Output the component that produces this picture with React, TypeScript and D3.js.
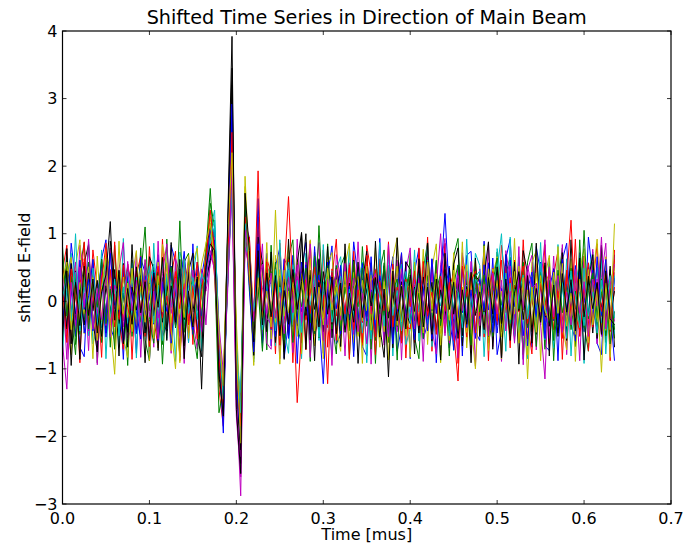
import React from "react";
import * as d3 from "d3";

const T_STEP = 0.005;
const xTicks = [0.0, 0.1, 0.2, 0.3, 0.4, 0.5, 0.6, 0.7];
const yTicks = [-3, -2, -1, 0, 1, 2, 3, 4];
const colors = ["#0000ff", "#008000", "#ff0000", "#00bfbf", "#bf00bf", "#bfbf00", "#000000"];

const s0 = [
  -0.35, 0.42, 0.18, -0.52, 0.61, -0.12, 0.33, -0.44, 0.08, 0.55, -0.27, 0.71, -0.06, 0.24, -0.61, 0.37,
  0.12, -0.48, 0.66, -0.21, 0.05, 0.43, -0.58, 0.29, -0.15, 0.52, -0.36, 0.18, 0.74, -0.09, -0.42, 0.31,
  -0.22, 0.46, 1.05, 0.88, -0.74, -1.95, 0.62, 2.92, -1.2, -2.05, 1.55, 0.38, -0.45, 1.52, -0.62, 0.25,
  -0.42, 0.35, -0.18, 0.62, -0.55, 0.14, -0.33, 0.58, 0.07, -0.49, 0.81, -0.25, -1.22, 0.19, 0.42, -0.11,
  0.53, -0.37, 0.22, -0.82, 0.47, 0.09, -0.29, 0.66, -0.51, 0.28, -0.07, 0.44, -0.63, 0.15, 0.72, -0.34,
  0.06, -0.57, 0.39, 0.21, -0.44, 0.63, -0.18, 0.35, 1.3, 0.11, -0.72, -0.26, 0.48, -0.39, 0.17, -0.55,
  0.32, -0.14, 0.57, -0.46, 0.24, -0.31, 0.69, -0.08, -0.52, 0.41, 0.13, -0.66, 0.36, -0.23, 0.58, -0.41,
  0.19, 0.47, -0.35, 0.62, -0.16, 0.28, -0.59, 0.44, -0.02, 0.51, -0.37, 0.66, -0.21, 0.34, -0.12, -0.88,
];
const s1 = [
  0.81, -0.22, 0.37, -0.64, 0.12, 0.55, -0.41, 0.27, -0.09, 0.62, -0.33, 0.18, -0.71, 0.44, -0.15, 0.29,
  -0.52, 0.08, 0.36, 1.1, -0.27, -0.62, 0.41, -0.93, 0.23, 0.51, -0.38, 1.19, -0.46, 0.14, 0.32, -0.19,
  -0.31, 0.72, 1.67, 0.55, -1.65, -1.3, 0.25, 1.85, -0.95, -1.75, 1.45, 0.62, -0.38, 0.21, -0.74, 0.46,
  -0.25, 0.58, -0.47, 0.13, 0.36, -0.61, 0.24, -0.08, 0.49, -0.32, 0.67, -0.54, 0.11, 0.38, -0.26, 0.53,
  -0.44, 0.21, -0.12, 0.59, -0.37, 0.06, 0.44, -0.71, 0.28, -0.19, 0.57, -0.42, 0.15, 0.33, -0.58, 0.22,
  0.47, -0.29, 0.12, -0.55, 0.38, -0.14, 0.61, -0.36, 0.09, -0.47, 0.26, 0.54, -0.31, 0.18, -0.65, 0.41,
  -0.16, 0.39, -0.52, 0.27, 0.64, -0.23, 0.08, -0.48, 0.35, -0.11, 0.56, -0.39, 0.21, -0.67, 0.43, -0.05,
  0.31, -0.58, 0.46, -0.17, 0.23, -0.42, 0.15, -0.33, 1.05, -0.26, 0.38, -0.49, 0.12, 0.27, -0.63, -0.15,
];
const s2 = [
  0.22, -0.61, 0.48, 0.05, -0.34, 0.63, -0.18, 0.39, -0.52, 0.27, 0.86, -0.45, 0.11, -0.27, 0.54, -0.09,
  -0.38, 0.45, -0.13, 0.31, -0.67, 0.19, 0.52, -0.24, 0.08, -0.49, 0.36, -0.11, 0.62, -0.35, 0.23, -0.56,
  0.15, 0.62, 1.35, 0.72, -0.85, -1.55, 0.48, 2.5, -0.85, -1.85, 1.25, 0.35, -0.25, 1.93, -0.32, 0.58,
  -0.41, 0.27, -0.65, 0.39, 1.55, 0.11, -1.5, -0.46, 0.32, -0.18, 0.51, -0.37, 0.09, -1.22, 0.44, -0.58,
  0.36, -0.19, 0.54, -0.42, 0.17, -0.31, 0.68, -0.06, -0.53, 0.29, -0.14, 0.47, -0.38, 0.21, -0.62, 0.33,
  -0.08, 0.45, -0.36, 0.59, -0.22, 0.14, -0.49, 0.37, -0.15, 0.28, -0.45, -1.18, 0.52, 0.07, 0.41, -0.47,
  0.26, -0.53, 0.12, 0.44, -0.29, 0.61, -0.17, 0.35, -0.46, 0.19, 0.52, -0.33, 0.08, -0.41, 0.27, -0.12,
  0.48, -0.26, 0.15, -0.55, 0.34, 1.2, -0.21, -0.44, 0.09, 0.57, -0.38, 0.22, -0.15, 0.41, -0.29, 0.62,
];
const s3 = [
  0.05, 0.38, -0.29, 1.0, -0.44, 0.21, -0.13, 0.49, -0.36, 0.17, 0.58, -0.24, 0.33, -0.51, 0.12, 0.44,
  -0.21, 0.36, -0.47, 0.15, 0.52, -0.32, 0.24, -0.58, 0.41, -0.09, 0.29, -0.43, 0.62, -0.18, 0.35, -0.27,
  0.41, 0.25, 0.95, 1.2, -0.55, -1.45, 0.35, 1.65, -0.65, -1.65, 1.15, 0.55, -0.15, 0.45, -0.42, 0.32,
  -0.19, 0.47, -0.35, 0.12, 0.58, -0.27, 0.31, -0.46, 0.15, -0.06, 0.39, -0.53, 0.21, 0.44, -0.31, 0.08,
  0.37, -0.42, 0.18, -0.25, 0.49, -0.13, 0.27, -0.56, 0.34, 0.08, -0.37, 0.53, -0.21, 0.16, -0.44, 0.29,
  -0.33, 0.15, 0.42, -0.28, 0.61, -0.45, 0.19, -0.07, 0.36, -0.51, 0.24, 0.13, -0.39, 0.45, -0.18, 0.33,
  0.22, -0.48, 0.31, -0.14, 0.45, 1.0, -0.36, 0.27, -0.52, 0.11, 0.39, -0.26, 0.18, -0.43, 0.56, -0.09,
  -0.31, 0.42, -0.17, 0.28, -0.55, 0.36, 0.07, -0.39, 0.49, -0.22, 0.14, -0.47, 0.31, -0.12, 0.38, -0.25,
];
const s4 = [
  -0.62, -1.3, 0.28, -0.36, 0.51, -0.09, 0.92, -0.41, 0.19, -0.27, 0.45, -0.53, 0.24, 0.07, -0.38, 0.59,
  -0.14, 0.31, -0.49, 0.62, -0.23, 0.15, -0.56, 0.41, 0.85, -0.18, 0.34, -0.42, 0.09, 0.53, -0.31, 0.22,
  -0.45, 0.35, 0.75, 0.45, -0.6, -1.15, 0.15, 1.95, -1.4, -2.88, 1.05, 0.7, -0.3, 0.25, 0.55, -0.18,
  0.42, -0.25, 0.13, -0.48, 0.36, -0.17, 0.54, -0.32, 0.21, 0.85, -0.41, 0.19, -0.58, 0.33, -0.07, 0.47,
  -0.28, 0.56, -0.19, 0.34, -0.45, 0.12, -0.63, 0.29, 0.41, -0.36, 0.18, -0.52, 0.26, -0.11, 0.48, -0.34,
  0.17, -0.41, 0.35, -0.22, 0.59, -0.47, 0.23, 1.0, -0.33, 0.16, -0.58, 0.38, -0.14, 0.44, -0.27, 0.11,
  -0.36, 0.25, -0.51, 0.42, -0.19, 0.31, -0.44, 0.15, -0.62, 0.37, -0.08, 0.53, 0.19, 0.26, -0.35, -1.15,
  0.51, -0.23, 0.38, -0.46, 0.14, -0.35, 0.47, -0.18, 0.29, -0.52, 0.33, -0.07, 0.95, -0.41, 0.24, 0.55,
];
const s5 = [
  0.31, 0.58, -0.42, 0.19, -0.27, 0.46, -0.11, 0.35, -0.58, 0.22, 0.63, -0.34, -1.08, 0.41, -0.19, 0.27,
  -0.45, 0.12, 0.49, -0.31, 0.26, -0.55, 0.38, -0.16, 0.57, -0.42, -1.0, 0.33, -0.24, 0.68, -0.37, 0.14,
  0.55, 0.85, 1.15, 0.62, -0.45, -1.25, 0.95, 2.2, -0.75, -2.1, 1.85, 0.45, -0.55, 0.35, -0.25, 0.15,
  -0.38, 1.35, -0.29, 0.46, -0.17, 0.28, -0.52, 0.39, -0.08, 0.63, -0.44, 0.21, -0.35, 0.49, -0.13, 0.32,
  -0.21, 0.44, -0.56, 0.18, 0.37, -0.29, 0.52, -0.43, 0.11, -0.68, 0.29, -0.15, 0.47, -0.36, 0.24, -0.51,
  0.36, -0.18, 0.27, -0.47, 0.58, -0.12, 0.41, -0.65, 0.19, -0.28, 0.46, -0.39, 0.08, 0.54, -0.31, -1.0,
  0.23, -0.39, 0.48, -0.11, 0.31, -0.53, 0.16, -0.27, 0.44, -0.62, 0.35, -1.15, 0.21, -0.46, 0.38, -0.14,
  -0.29, 0.43, -0.18, 0.56, -0.37, 0.12, -0.49, 0.33, -0.21, 0.47, -0.35, 0.18, -1.05, 0.27, -0.42, 1.15,
];
const s6 = [
  -0.55, 0.45, -0.95, 0.28, -0.36, 0.52, -0.21, 0.33, -0.47, 0.14, 0.39, 1.18, -0.28, 0.46, -0.63, 0.19,
  -0.34, 0.51, -0.17, 0.29, -0.58, 0.42, -0.09, 0.65, -0.44, 0.23, -0.31, 0.48, -0.66, 0.15, -0.38, 0.36,
  -1.3, 0.5, 0.85, 0.75, -1.05, -1.7, 1.15, 3.92, -1.6, -2.55, 1.6, 0.75, -0.6, 0.65, -0.35, 0.42,
  -0.23, 0.38, -0.51, 0.16, -0.34, 0.47, -0.12, 0.29, 1.0, -0.57, 0.21, -0.38, 0.44, -0.19, 0.36, -0.48,
  0.27, -0.46, 0.12, -0.31, 0.58, -0.24, 0.41, -0.07, 0.35, -0.53, 0.18, -1.12, 0.45, -0.29, 0.22, -0.41,
  0.39, -0.15, 0.52, -0.38, 0.21, -0.49, 0.33, -0.26, 0.47, -0.12, 0.28, -0.55, 0.17, -0.34, 0.43, -0.21,
  0.14, -0.42, 0.35, -0.19, 0.51, -0.33, 0.26, -0.58, 0.12, 0.44, -0.27, 0.38, -0.45, 0.19, -0.31, 0.53,
  -0.37, 0.24, -0.52, 0.41, -0.16, 0.32, -0.44, 0.56, -0.23, 0.37, -0.11, 0.28, -0.49, 0.45, -0.26, -0.35,
];
const s7 = [
  0.12, -0.38, 0.55, -0.19, 0.31, -0.47, 0.08, 0.62, -0.29, 0.41, -0.53, 0.16, 0.35, -0.22, 0.48, -0.41,
  0.27, -0.15, -0.56, 0.38, 0.09, -0.34, 0.51, -0.21, 0.33, -0.62, 0.19, 0.45, -0.28, 0.07, -0.49, 0.58,
  0.18, 0.28, 0.65, 1.05, -0.4, -1.6, 0.45, 2.75, -1.1, -1.55, 1.2, 0.15, -0.75, 0.85, -0.15, 0.38,
  0.25, -0.52, 0.36, -0.11, 0.47, -0.38, 0.22, -0.16, 0.54, -0.43, 0.13, 0.39, -0.27, 0.58, -0.36, 0.19,
  -0.48, 0.33, -0.15, 0.42, -0.31, 0.56, -0.22, 0.17, -0.45, 0.38, 0.06, -0.52, 0.29, -0.18, 0.41, -0.27,
  0.21, -0.34, 0.48, -0.09, 0.27, -0.56, 0.39, -0.21, 0.14, 0.52, -0.43, 0.26, -0.17, 0.45, -0.38, 0.31,
  -0.26, 0.54, -0.13, 0.32, -0.47, 0.19, -0.35, 0.61, -0.08, 0.29, -0.51, 0.16, 0.43, -0.24, 0.37, -0.55,
  0.18, -0.29, 0.41, -0.45, 0.26, -0.12, 0.53, -0.36, 0.21, -0.18, 0.46, -0.31, 0.09, 0.62, -0.44, 0.35,
];
const s8 = [
  -0.28, 0.52, -0.16, 0.37, -0.49, 0.24, 0.58, -0.33, 0.11, -0.61, 0.42, -0.18, 0.29, -0.37, 0.15, 0.51,
  -0.42, 0.23, -0.31, 0.56, -0.14, 0.38, -0.52, 0.19, -0.06, 0.47, -0.35, 0.28, -0.19, 0.61, -0.44, -0.85,
  0.25, 0.45, 0.95, 0.8, -0.7, -1.4, 0.6, 2.35, -0.6, -1.9, 1.35, 0.25, -0.45, 0.55, -0.38, 0.22,
  0.44, -0.21, 0.31, -0.57, 0.18, 0.42, -0.33, 0.26, -0.26, 0.39, -0.48, 1.12, -0.09, 0.53, -0.41, 0.27,
  -0.17, 0.36, -0.44, 0.22, -0.08, 0.49, -0.37, 0.14, -0.58, 0.31, -0.21, 0.46, -0.32, 0.11, -0.49, 0.38,
  0.12, -0.46, 0.29, -0.18, 0.53, -0.34, 0.16, 0.41, -0.27, 0.34, -0.59, 0.22, -0.12, 0.37, -0.45, 0.18,
  0.41, -0.19, 0.26, -0.52, 0.37, -0.06, 0.45, -0.31, 0.21, -0.43, 0.58, -0.24, 0.12, -0.37, 0.29, -0.16,
  -0.33, 0.18, -0.47, 0.35, -0.21, 0.49, -0.12, 0.27, -0.39, 0.16, 0.42, -0.28, 0.33, -0.51, 0.19, -0.42,
];
const s9 = [
  0.63, -0.19, 0.34, -0.45, 0.21, 0.88, -0.37, 0.12, -0.54, 0.39, -0.23, 0.47, -0.38, 0.17, -0.29, 0.55,
  0.18, -0.41, 0.33, -0.24, 0.49, -0.16, 0.37, -0.55, 0.22, -0.09, 0.44, -0.31, 0.26, -0.47, 0.12, 0.58,
  -0.28, 0.55, 1.05, 0.35, -0.95, -1.35, 0.75, 2.15, -0.7, -1.6, 0.85, 0.95, -0.35, 0.35, -0.52, 0.48,
  -0.16, 0.42, -0.33, 0.25, -0.47, 0.36, -0.12, 0.53, -0.28, 0.19, -0.41, 0.31, 0.07, -0.39, 0.48, -0.22,
  0.35, -0.27, 0.49, -0.15, 0.28, -0.61, 0.37, -0.19, 0.46, -0.34, 0.13, -0.42, 0.55, -0.26, 0.18, -0.37,
  -0.41, 0.24, -0.12, 0.38, -0.29, 0.52, -0.18, 0.33, -0.47, 0.21, 0.41, -0.25, 0.16, -0.53, 0.29, 0.45,
  -0.22, 0.37, -0.45, 0.15, 0.33, -0.28, 0.52, -0.39, 0.24, -0.16, 0.41, -0.56, 0.27, -0.08, 0.39, -0.31,
  0.27, -0.42, 0.19, -0.31, 0.46, -0.17, 0.38, -0.52, 0.25, -0.36, 0.14, 0.48, -0.23, 0.31, -0.45, 0.21,
];
const s10 = [
  -0.46, 0.16, -0.28, 0.43, -0.12, 0.37, -0.51, 0.25, 0.06, -0.39, 0.51, -0.17, 0.32, -0.48, 0.21, -0.33,
  0.39, -0.27, 0.14, -0.46, 0.31, 0.55, -0.18, 0.27, -0.41, 0.16, -0.29, 0.48, -0.37, 0.23, 0.41, -0.12,
  0.05, 0.55, 0.85, 1.1, -0.5, -1.2, 0.3, 1.75, -0.85, -1.35, 0.95, 0.4, -0.2, 0.55, -0.29, 0.16,
  0.33, -0.44, 0.21, -0.18, 0.46, -0.35, 0.13, -0.52, 0.38, -0.27, 0.16, -0.41, 0.29, -0.11, 0.45, -0.36,
  0.19, -0.33, 0.42, -0.21, 0.14, -0.47, 0.36, -0.09, 0.28, -0.43, 0.51, -0.18, 0.23, -0.39, 0.12, 0.44,
  -0.25, 0.38, -0.16, 0.51, -0.34, 0.22, -0.48, 0.15, -0.27, 0.39, -0.12, 0.31, -0.53, 0.24, -0.08, 0.36,
  0.45, -0.21, 0.11, -0.38, 0.27, -0.14, 0.42, -0.33, 0.18, -0.47, 0.29, -0.22, 0.36, -0.15, 0.48, -0.41,
  -0.18, 0.33, -0.39, 0.22, -0.11, 0.45, -0.29, 0.14, -0.36, 0.28, -0.19, 0.51, -0.32, 0.15, -0.24, 0.38,
];
const s11 = [
  0.36, -0.52, 0.17, 0.58, -0.27, 0.12, -0.44, 0.31, -0.18, 0.49, -0.36, 0.22, -0.11, 0.41, -0.55, 0.23,
  -0.31, 0.44, -0.21, 0.13, -0.47, 0.36, -0.25, 0.19, 0.53, -0.38, 0.27, -0.52, 0.18, -0.29, 0.46, -0.14,
  0.35, 0.15, 0.55, 0.95, -0.35, -1.05, 0.25, 1.55, -1.55, -2.3, 0.8, 0.5, -0.1, 0.45, 0.2, -0.25,
  -0.34, 0.51, -0.19, 0.28, -0.42, 0.16, 0.37, -0.26, 0.44, -0.13, 0.32, -0.49, 0.21, -0.35, 0.18, 0.42,
  0.28, -0.14, 0.35, -0.49, 0.22, -0.31, 0.47, -0.18, 0.11, -0.36, 0.54, -0.23, 0.39, -0.45, 0.16, -0.28,
  -0.19, 0.32, -0.43, 0.17, -0.26, 0.44, -0.12, 0.29, -0.51, 0.35, -0.21, 0.47, -0.33, 0.12, -0.42, 0.26,
  0.31, -0.45, 0.23, -0.17, 0.39, -0.28, 0.14, 0.52, -0.36, 0.21, -0.13, 0.44, -0.39, 0.27, -0.21, 0.36,
  -0.24, 0.38, -0.12, 0.45, -0.33, 0.19, -0.47, 0.28, -0.16, 0.41, -0.27, 0.33, -0.52, 0.17, 0.36, -0.3,
];
const s12 = [
  -0.17, 0.33, 0.65, -0.42, 0.28, -0.19, 0.51, -0.35, 0.14, -0.27, 0.45, -0.48, 0.19, -0.13, 0.36, -0.24,
  0.49, -0.36, 0.22, -0.14, 0.41, -0.27, 0.58, -0.43, 0.16, -0.32, 0.35, -0.18, 0.44, -0.55, 0.21, 0.37,
  -0.15, 0.85, 1.25, 0.5, -0.8, -1.1, 0.85, 1.85, -0.3, -1.75, 1.0, 0.85, -0.25, 0.3, -0.48, 0.25,
  0.38, -0.31, 0.47, -0.22, 0.15, -0.48, 0.26, 0.41, -0.17, 0.33, -0.39, 0.12, -0.25, 0.46, -0.33, 0.21,
  -0.36, 0.25, -0.18, 0.43, -0.52, 0.31, -0.14, 0.39, -0.27, 0.18, -0.45, 0.34, -0.09, 0.52, -0.31, 0.15,
  0.26, -0.41, 0.14, -0.29, 0.45, -0.17, 0.36, -0.48, 0.23, -0.12, 0.39, -0.34, 0.21, -0.46, 0.31, -0.18,
  -0.12, 0.29, -0.36, 0.48, -0.23, 0.15, -0.41, 0.33, -0.19, 0.52, -0.28, 0.17, -0.35, 0.42, -0.16, 0.27,
  0.41, -0.22, 0.31, -0.38, 0.15, -0.27, 0.44, -0.13, 0.36, -0.49, 0.22, -0.31, 0.18, -0.43, 0.29, 0.48,
];
const s13 = [
  0.24, -0.41, 0.56, -0.28, 0.17, -0.35, 0.42, -0.14, 0.31, -0.52, 0.23, -0.19, 0.47, -0.33, 0.12, -0.46,
  0.21, -0.13, 0.38, -0.47, 0.26, -0.22, 0.44, -0.31, 0.15, 0.52, -0.39, 0.18, -0.27, 0.41, -0.16, 0.33,
  -0.42, 0.3, 0.6, 0.9, -0.65, -1.5, 0.95, 3.2, -1.3, -2.2, 1.4, 0.55, -0.5, 0.75, -0.28, 0.35,
  -0.29, 0.46, -0.15, 0.33, -0.51, 0.24, -0.37, 1.0, -0.21, 0.39, -0.12, 0.28, -0.45, 0.17, -0.34, 0.49,
  0.16, -0.38, 0.27, -0.14, 0.43, -0.29, 0.19, -0.46, 0.35, -0.11, 0.52, -0.25, 0.14, -0.37, 0.29, -0.18,
  -0.33, 0.21, -0.47, 0.36, -0.15, 0.28, -0.42, 0.17, -0.26, 0.49, -0.19, 0.34, -0.51, 0.22, -0.13, 0.38,
  0.29, -0.16, 0.41, -0.32, 0.18, -0.45, 0.33, -0.21, 0.47, -0.14, 0.26, -0.38, 0.12, -0.49, 0.35, -0.23,
  -0.21, 0.37, -0.13, 0.28, -0.44, 0.19, -0.31, 0.42, -0.18, 0.33, -0.47, 0.26, -0.09, 0.38, -0.25, 0.15,
];
const s14 = [
  0.72, -0.45, 0.86, 0.31, -0.68, -0.82, 0.55, 0.12, -0.74, 0.63, 0.91, -0.38, -0.57, 0.24, -0.86, 0.48,
  0.29, -0.77, 0.64, 0.42, -0.88, 0.18, 0.69, -0.52, -0.35, 0.83, 0.58, -0.79, 0.27, -0.61, 0.85, -0.47,
  0.36, 0.75, 1.25, 0.95, -0.9, -1.75, 0.85, 2.6, -1.45, -1.95, 1.35, 0.65, -0.85, 1.05, -0.58, 0.71,
  -0.66, 0.52, 0.79, -0.84, -0.31, 0.68, -0.92, 0.45, 0.87, -0.58, -0.24, 0.61, -0.77, 0.39, 0.82, -0.63,
  -0.49, 0.71, -0.28, 0.88, 0.34, -0.67, -0.81, 0.56, -0.43, 0.93, -0.61, 0.27, 0.66, -0.74, -0.38, 0.59,
  -0.85, 0.44, 0.78, -0.56, -0.33, 0.62, -0.91, 0.37, 0.85, -0.69, -0.26, 0.53, -0.81, 0.68, 0.74, -0.45,
  -0.58, 0.89, -0.36, 0.64, -0.79, -0.41, 0.63, 0.92, -0.27, 0.57, -0.86, 0.35, -0.68, 0.81, 0.42, -0.66,
  -0.73, 0.49, -0.88, 0.61, 0.86, -0.34, -0.57, 0.72, -0.45, 0.95, 0.38, -0.62, -0.79, 0.55, -0.41, 0.69,
];
const s15 = [
  -0.58, 0.66, -0.21, -0.79, 0.48, 0.87, -0.35, 0.62, -0.91, 0.27, 0.54, -0.68, 0.83, -0.42, 0.19, -0.95,
  0.61, -0.33, 0.79, -0.57, -0.88, 0.46, 0.25, -0.64, 0.92, -0.41, 0.16, -0.83, 0.58, 0.71, -0.52, 0.37,
  -0.67, 0.55, 1.45, 1.1, -1.2, -1.6, 0.55, 2.05, -1.25, -1.5, 1.6, 0.3, -0.65, 0.8, 0.48, -0.72,
  0.83, -0.46, 0.29, -0.75, 0.64, 0.91, -0.38, -0.62, 0.47, -0.89, 0.73, 0.18, -0.56, 0.85, -0.31, -0.78,
  0.52, 0.69, -0.84, 0.37, -0.49, 0.81, -0.23, 0.57, -0.92, 0.44, 0.76, -0.61, 0.33, -0.87, 0.62, -0.29,
  0.71, -0.53, -0.85, 0.46, 0.88, -0.37, 0.59, -0.72, 0.24, -0.81, 0.67, 0.93, -0.45, 0.28, -0.66, 0.54,
  -0.39, 0.84, -0.62, -0.26, 0.73, -0.87, 0.41, 0.65, -0.54, 0.22, -0.79, 0.58, 0.86, -0.43, 0.35, -0.71,
  0.64, -0.88, 0.27, 0.79, -0.52, 0.43, -0.67, 0.91, -0.36, -0.74, 0.58, -0.25, 0.83, -0.61, 0.47, -0.55,
];
const s16 = [
  0.45, 0.83, -0.62, 0.27, -0.91, 0.58, -0.34, 0.76, 0.19, -0.83, 0.64, -0.47, 0.88, -0.29, -0.71, 0.55,
  -0.86, 0.39, 0.67, -0.52, 0.81, -0.25, -0.69, 0.92, -0.41, 0.36, 0.74, -0.88, 0.23, 0.59, -0.64, 0.47,
  -0.55, 0.38, 0.95, 0.85, -1.3, -1.85, 0.7, 2.25, -0.95, -2.25, 1.1, 0.85, -0.7, 1.25, -0.45, 0.63,
  0.41, -0.78, 0.86, -0.33, 0.62, -0.91, 0.48, 0.27, -0.72, 0.89, -0.51, -0.24, 0.76, -0.68, 0.35, 0.92,
  -0.43, 0.57, -0.86, 0.74, -0.22, -0.65, 0.83, 0.41, -0.79, 0.63, -0.37, 0.88, -0.55, 0.18, 0.71, -0.84,
  0.36, -0.61, 0.79, -0.28, 0.95, -0.74, 0.47, -0.39, 0.86, -0.57, 0.22, -0.92, 0.68, 0.31, -0.76, 0.53,
  -0.24, 0.72, -0.88, 0.49, -0.35, 0.83, 0.27, -0.69, 0.61, -0.47, 0.91, -0.32, -0.78, 0.56, -0.19, 0.84,
  -0.63, 0.38, 0.75, -0.86, 0.44, -0.29, 0.92, -0.51, 0.67, -0.73, 0.21, 0.85, -0.46, 0.61, -0.88, 0.76,
];
const s17 = [
  -0.81, 0.34, 0.71, -0.47, 0.59, -0.26, 0.88, -0.63, -0.39, 0.76, -0.85, 0.42, 0.21, -0.68, 0.93, -0.31,
  0.57, -0.84, 0.43, 0.19, -0.72, 0.86, -0.37, 0.64, -0.55, 0.28, -0.89, 0.73, 0.46, -0.61, 0.35, 0.82,
  -0.74, 0.61, 1.05, 1.35, -0.75, -1.5, 0.25, 1.95, -1.0, -1.45, 1.05, 0.45, -0.9, 0.65, -0.69, 0.52,
  0.38, -0.66, 0.91, -0.42, -0.77, 0.54, 0.29, -0.85, 0.71, -0.33, 0.63, -0.58, 0.84, -0.21, -0.79, 0.47,
  0.66, -0.35, 0.82, -0.73, 0.26, 0.58, -0.91, 0.44, -0.52, 0.87, -0.28, 0.69, -0.81, 0.37, 0.55, -0.64,
  -0.42, 0.76, -0.59, 0.31, 0.85, -0.67, 0.18, -0.88, 0.62, 0.47, -0.73, 0.29, -0.56, 0.92, -0.37, 0.71,
  0.53, -0.82, 0.36, -0.61, 0.78, 0.24, -0.74, 0.95, -0.43, 0.66, -0.27, -0.85, 0.51, -0.38, 0.87, -0.57,
  0.32, -0.69, 0.84, -0.45, 0.63, -0.81, 0.27, 0.56, -0.92, 0.41, 0.73, -0.36, 0.62, -0.78, 0.25, -0.48,
];
const s18 = [
  0.27, -0.86, 0.62, -0.41, 0.83, 0.38, -0.73, 0.55, -0.94, 0.36, -0.22, 0.79, -0.66, 0.48, 0.87, -0.54,
  -0.39, 0.72, -0.83, 0.56, 0.31, -0.68, 0.89, -0.45, 0.24, -0.77, 0.63, 0.41, -0.92, 0.67, -0.28, -0.71,
  0.48, -0.35, 0.65, 0.55, -0.85, -1.25, 0.45, 1.75, -1.7, -2.6, 1.15, 0.95, -0.55, 0.15, 0.85, -0.62,
  -0.71, 0.38, -0.85, 0.63, 0.49, -0.76, 0.92, -0.37, 0.58, -0.83, 0.26, 0.87, -0.61, 0.43, -0.95, 0.69,
  0.34, -0.81, 0.57, -0.46, 0.88, -0.32, 0.71, -0.93, 0.48, 0.22, -0.65, 0.84, -0.39, 0.61, -0.87, 0.45,
  0.79, -0.52, 0.28, -0.89, 0.66, -0.41, -0.78, 0.55, 0.93, -0.62, 0.37, -0.84, 0.72, -0.25, 0.59, -0.96,
  0.48, -0.31, 0.86, -0.67, 0.42, -0.89, 0.75, 0.33, -0.58, 0.81, -0.94, 0.46, 0.68, -0.72, 0.25, 0.91,
  -0.55, 0.67, -0.38, 0.84, -0.79, 0.46, 0.21, -0.88, 0.59, -0.41, 0.77, -0.63, 0.35, 0.86, -0.74, 0.43,
];
const s19 = [
  0.64, -0.37, -0.79, 0.52, 0.91, -0.48, 0.26, -0.85, 0.67, -0.31, 0.78, 0.43, -0.62, 0.89, -0.54, -0.83,
  0.36, 0.75, -0.44, 0.61, -0.88, 0.27, -0.69, 0.84, 0.52, -0.73, 0.38, -0.91, 0.66, -0.25, 0.57, 0.79,
  -0.42, 0.45, 0.85, 0.95, -0.65, -1.45, 0.65, 1.9, -0.55, -1.8, 1.7, 0.25, -0.95, 0.55, -0.35, 0.87,
  -0.56, 0.68, -0.93, 0.31, 0.84, -0.47, 0.62, -0.78, 0.23, 0.91, -0.66, 0.44, -0.85, 0.57, 0.72, -0.39,
  -0.74, 0.53, 0.86, -0.61, 0.35, -0.92, 0.67, -0.28, 0.79, -0.55, 0.41, -0.87, 0.63, 0.94, -0.46, 0.32,
  -0.83, 0.58, -0.36, 0.77, -0.64, 0.49, 0.85, -0.91, 0.33, -0.58, 0.72, -0.43, 0.88, -0.69, 0.26, 0.61,
  -0.47, 0.82, -0.73, 0.39, 0.66, -0.85, 0.52, -0.31, 0.93, -0.62, 0.44, -0.79, 0.57, 0.75, -0.88, 0.36,
  0.68, -0.54, 0.81, -0.35, -0.72, 0.63, -0.89, 0.45, 0.78, -0.61, 0.34, 0.92, -0.48, 0.66, -0.83, 0.57,
];
const s20 = [
  -0.39, 0.78, -0.63, 0.45, -0.86, 0.57, 0.84, -0.29, -0.75, 0.62, -0.47, 0.89, 0.33, -0.81, 0.56, -0.68,
  0.84, -0.42, 0.29, -0.91, 0.66, 0.48, -0.73, 0.35, -0.58, 0.87, -0.26, 0.62, -0.85, 0.44, 0.71, -0.53,
  -0.82, 0.68, 1.15, 0.65, -1.15, -1.35, 1.05, 3.45, -1.05, -2.4, 1.5, 0.35, -0.8, 0.95, 0.58, -0.45,
  0.73, -0.61, 0.38, -0.86, 0.92, -0.34, 0.57, 1.02, -0.71, 0.46, -0.88, 0.63, -0.27, 0.81, -0.54, 0.39,
  -0.67, 0.85, -0.43, 0.61, -0.92, 0.28, 0.74, -0.56, 0.89, -0.37, -0.83, 0.52, -0.69, 0.94, -0.31, 0.58,
  0.47, -0.78, 0.63, -0.25, 0.86, -0.59, 0.32, -0.87, 0.71, -0.44, 0.55, 0.79, -0.66, 0.38, -0.91, 0.64,
  -0.52, 0.36, 0.88, -0.71, 0.43, -0.84, 0.69, -0.27, 0.58, -0.93, 0.75, 0.41, -0.62, 0.86, -0.35, 0.57,
  -0.81, 0.47, -0.29, 0.72, -0.58, 0.91, -0.43, 0.64, -0.87, 0.31, 0.69, -0.55, 0.83, -0.36, 0.52, -0.68,
];

const series = [s0, s1, s2, s3, s4, s5, s6, s7, s8, s9, s10, s11, s12, s13, s14, s15, s16, s17, s18, s19, s20];

const W = 683;
const H = 545;
const M = { left: 62.5, right: 671, top: 31, bottom: 504 };
const FONT = "'DejaVu Sans', sans-serif";

const fmtX = (v: number) => v.toFixed(1);
const fmtY = (v: number) => (v < 0 ? "\u2212" + Math.abs(v) : String(v));

export default function App() {
  const x = d3.scaleLinear().domain([0, 0.7]).range([M.left, M.right]);
  const y = d3.scaleLinear().domain([-3, 4]).range([M.bottom, M.top]);
  const line = d3
    .line<number>()
    .x((_, i) => x(i * T_STEP))
    .y((d) => y(d));
  const drawOrder = [14, 15, 16, 17, 18, 19, 20, 7, 8, 9, 10, 11, 12, 13, 0, 1, 2, 3, 4, 5, 6];

  return (
    <svg
      width={W}
      height={H}
      style={{ position: "absolute", left: 0, top: 0, display: "block", background: "#fff" }}
      fontFamily={FONT}
    >
      <rect x={0} y={0} width={W} height={H} fill="#fff" />
      <defs>
        <clipPath id="plotclip">
          <rect x={M.left} y={M.top} width={M.right - M.left} height={M.bottom - M.top} />
        </clipPath>
      </defs>
      <g clipPath="url(#plotclip)">
        {drawOrder.map((k) => (
          <path
            key={k}
            d={line(series[k]) || ""}
            fill="none"
            stroke={colors[k % 7]}
            strokeWidth={1}
            strokeLinejoin="round"
          />
        ))}
      </g>
      {xTicks.map((t) => (
        <g key={"xt" + t}>
          <line x1={x(t)} x2={x(t)} y1={M.bottom} y2={M.bottom - 4} stroke="#000" strokeWidth={0.8} />
          <line x1={x(t)} x2={x(t)} y1={M.top} y2={M.top + 4} stroke="#000" strokeWidth={0.8} />
          <text x={x(t)} y={M.bottom + 20} textAnchor="middle" fontSize={16} fill="#000">
            {fmtX(t)}
          </text>
        </g>
      ))}
      {yTicks.map((t) => (
        <g key={"yt" + t}>
          <line x1={M.left} x2={M.left + 4} y1={y(t)} y2={y(t)} stroke="#000" strokeWidth={0.8} />
          <line x1={M.right} x2={M.right - 4} y1={y(t)} y2={y(t)} stroke="#000" strokeWidth={0.8} />
          <text x={M.left - 5} y={y(t) + 5.5} textAnchor="end" fontSize={16} fill="#000">
            {fmtY(t)}
          </text>
        </g>
      ))}
      <rect
        x={M.left}
        y={M.top}
        width={M.right - M.left}
        height={M.bottom - M.top}
        fill="none"
        stroke="#000"
        strokeWidth={1.2}
      />
      <text x={(M.left + M.right) / 2} y={24} textAnchor="middle" fontSize={19.2} fill="#000">
        Shifted Time Series in Direction of Main Beam
      </text>
      <text x={(M.left + M.right) / 2} y={540} textAnchor="middle" fontSize={16} fill="#000">
        Time [mus]
      </text>
      <text
        transform={`translate(30, ${(M.top + M.bottom) / 2}) rotate(-90)`}
        textAnchor="middle"
        fontSize={16}
        fill="#000"
      >
        shifted E-field
      </text>
    </svg>
  );
}
